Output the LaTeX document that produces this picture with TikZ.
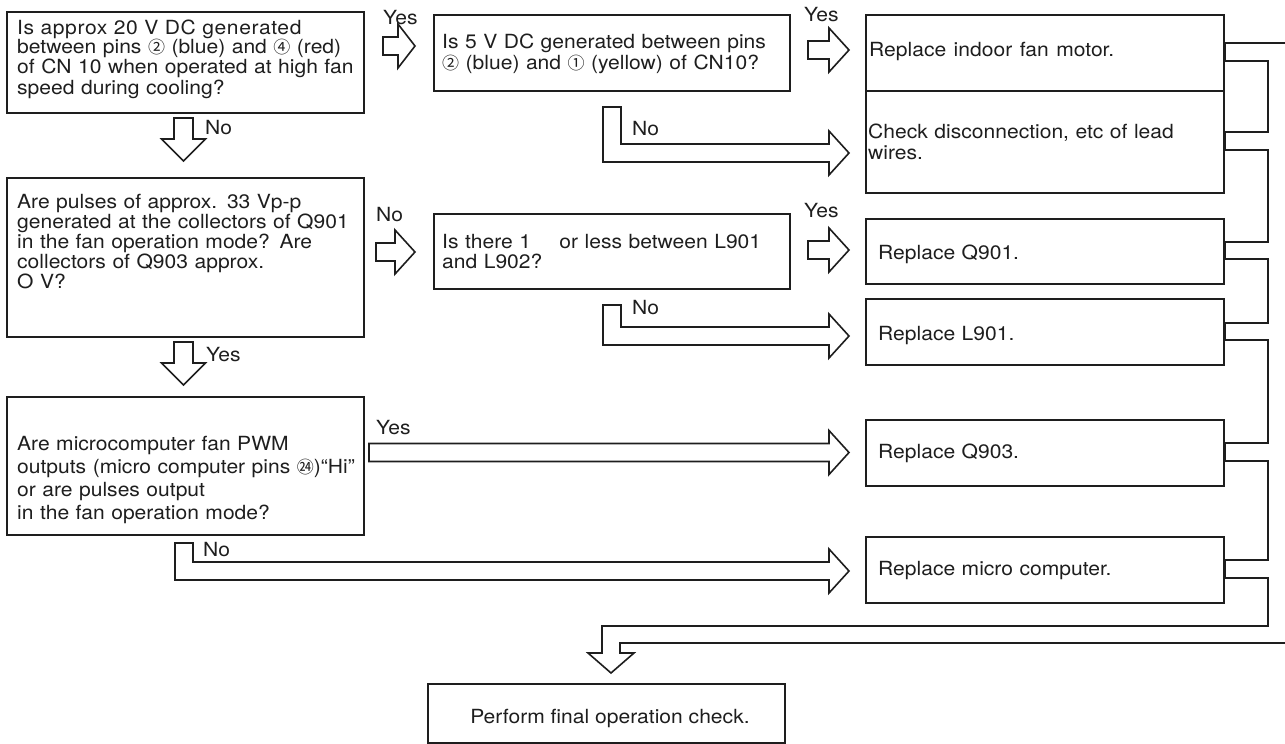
\documentclass[tikz,border=0pt]{standalone}
\usepackage{fontspec}
\setmainfont{TeX Gyre Heros}[FakeStretch=1.08]
\newfontfamily\cjk{Noto Sans CJK JP}
\usetikzlibrary{calc}
\newcommand\cir[1]{{\cjk\fontsize{17}{17}\selectfont #1}}
\definecolor{ink}{HTML}{1E1E1E}
\newcommand\fatR[4]{\draw[fat] (#1,#4-9) -- (#2,#4-9) -- (#2,#4-22) -- (#3,#4) -- (#2,#4+22) -- (#2,#4+9) -- (#1,#4+9) -- cycle;}
\newcommand\fatD[4]{\draw[fat] (#1-9.5,#2) -- (#1+9.5,#2) -- (#1+9.5,#3) -- (#1+22,#3) -- (#1,#4) -- (#1-22,#3) -- (#1-9.5,#3) -- cycle;}
\newcommand\fatB[3]{\draw[fat] (#1,#2) -- (#1+18,#2) -- (#1+18,#3) -- (829,#3) -- (829,#3-13) -- (849,#3+9) -- (829,#3+31) -- (829,#3+18) -- (#1,#3+18) -- cycle;}
\begin{document}
\begin{tikzpicture}[x=1pt,y=-1pt,
  box/.style={draw=ink, line width=1.6pt, inner sep=0, rectangle, anchor=north west},
  txt/.style={anchor=base west, inner sep=0, text width=420pt, align=left, text=ink, font=\fontsize{19.5}{20}\selectfont},
  fat/.style={draw=ink, line width=1.6pt, fill=white, line join=miter},
  lbl/.style={anchor=west, inner sep=0, text=ink, font=\fontsize{19.5}{20}\selectfont},
  chan/.style={draw=ink, line width=1.6pt},
  mouth/.style={draw=ink, line width=3pt},
]
\useasboundingbox (0,0) rectangle (1285,744);

% left column boxes
\node[box, minimum width=357, minimum height=101] (b1) at (6,11) {};
\node[box, minimum width=357, minimum height=159] (b3) at (6,177) {};
\node[box, minimum width=357, minimum height=138] (b5) at (6,396) {};
% middle boxes
\node[box, minimum width=356, minimum height=76] (b2) at (433,14) {};
\node[box, minimum width=356, minimum height=75] (b4) at (433,213) {};
% right boxes
\node[box, minimum width=358, minimum height=76] (rA) at (865,14) {};
\node[box, minimum width=358, minimum height=102] (rB) at (865,90) {};
\node[box, minimum width=358, minimum height=65] (rC) at (865,218) {};
\node[box, minimum width=358, minimum height=66] (rD) at (865,298) {};
\node[box, minimum width=358, minimum height=66] (rE) at (865,419) {};
\node[box, minimum width=358, minimum height=66] (rF) at (865,536) {};
% final box
\node[box, minimum width=357, minimum height=59] (fin) at (427,683) {};

% texts
\node[txt] (t1) at (17,34) {{\addfontfeature{LetterSpace=3}Is approx 20 V DC generated}\\between pins \cir{②} (blue) and \cir{④} (red)\\of CN 10 when operated at high fan\\speed during cooling?};
\node[txt] (t3) at (17,208) {Are pulses of approx. 33 Vp-p\\generated at the collectors of Q901\\in the fan operation mode? Are\\collectors of Q903 approx.\\O V?};
\node[txt, font=\fontsize{19.5}{23}\selectfont] (t5) at (17,450) {Are microcomputer fan PWM\\outputs (micro computer pins \cir{㉔})“Hi”\\or are pulses output\\in the fan operation mode?};
\node[txt, font=\fontsize{19.5}{21}\selectfont] (t2) at (442,48) {Is 5 V DC generated between pins\\\cir{②} (blue) and \cir{①} (yellow) of CN10?};
\node[txt] (t4) at (442,248) {Is there 1\hspace{22pt} or less between L901\\and L902?};
\node[txt] (tA) at (869,56) {Replace\hspace{1pt} indoor\hspace{1pt} fan\hspace{1pt} motor.};
\node[txt, font=\fontsize{19.5}{21}\selectfont] (tB) at (868,138) {Check disconnection, etc of lead\\wires.};
\node[txt] (tC) at (878,259) {Replace Q901.};
\node[txt] (tD) at (878,340) {Replace L901.};
\node[txt] (tE) at (878,458) {Replace Q903.};
\node[txt] (tF) at (878,575) {Replace micro computer.};
\node[anchor=base, inner sep=0, text=ink, font=\fontsize{19.5}{20}\selectfont] (tfin) at (610,723) {Perform final operation check.};

% fat arrows
\fatR{383}{398}{415}{46}
\fatR{808}{829}{849}{50}
\fatR{376}{395}{415}{252}
\fatR{808}{829}{849}{250}
\fatR{369}{829}{849}{452.5}
\fatB{603}{107}{144}
\fatB{603}{305}{327}
\fatB{175}{543}{562}
\fatD{183.5}{118}{139}{161}
\fatD{183.5}{342}{363}{385}

% labels
\node[lbl] (ly1) at (383,18) {Yes};
\node[lbl] (ly2) at (804,15) {Yes};
\node[lbl] (ln1) at (205,128) {No};
\node[lbl] (ln2) at (632,129) {No};
\node[lbl] (ln3) at (376,215) {No};
\node[lbl] (ly3) at (804,211) {Yes};
\node[lbl] (ln4) at (632,308) {No};
\node[lbl] (ly4) at (206,355) {Yes};
\node[lbl] (ly5) at (376,428) {Yes};
\node[lbl] (ln5) at (203,550) {No};

% collecting channel on the right
\draw[chan] (rA.east |- 0,43) -- (1287,43) -- (1287,643) -- (620,643) -- (620,653) -- (634,653) -- (611,673) -- (588,653) -- (602,653) -- (602,626) -- (1268,626) -- (1268,578) -- (rF.east |- 0,578);
\draw[chan] (rA.east |- 0,61) -| (1268,132) -- (rB.east |- 0,132);
\draw[chan] (rB.east |- 0,150) -| (1268,242) -- (rC.east |- 0,242);
\draw[chan] (rC.east |- 0,259) -| (1268,323) -- (rD.east |- 0,323);
\draw[chan] (rD.east |- 0,340) -| (1268,443) -- (rE.east |- 0,443);
\draw[chan] (rE.east |- 0,461) -| (1268,560) -- (rF.east |- 0,560);
\draw[mouth] (rA.east |- 0,43) -- (rA.east |- 0,61);
\draw[mouth] (rB.east |- 0,132) -- (rB.east |- 0,150);
\draw[mouth] (rC.east |- 0,242) -- (rC.east |- 0,259);
\draw[mouth] (rD.east |- 0,323) -- (rD.east |- 0,340);
\draw[mouth] (rE.east |- 0,443) -- (rE.east |- 0,461);
\draw[mouth] (rF.east |- 0,560) -- (rF.east |- 0,578);
\end{tikzpicture}
\end{document}
